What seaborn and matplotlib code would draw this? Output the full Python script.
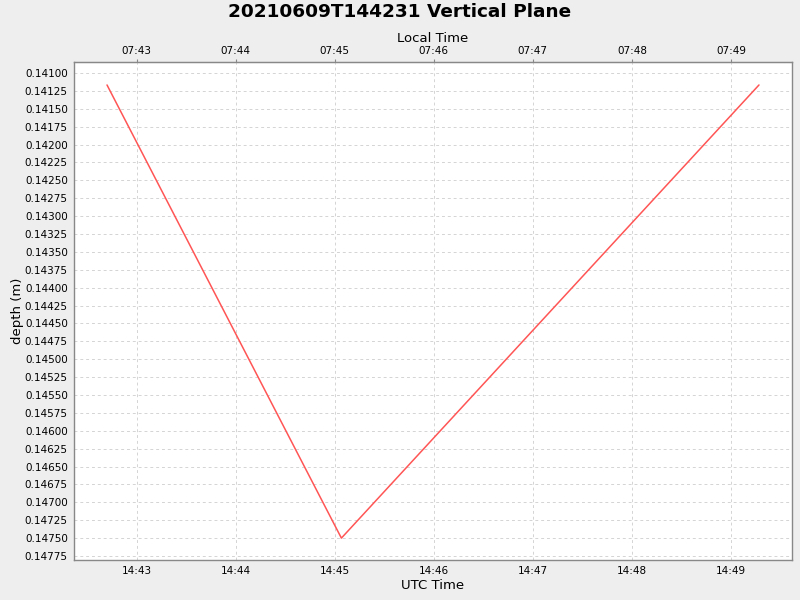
import matplotlib
matplotlib.use("Agg")
import matplotlib.pyplot as plt
import matplotlib.dates as mdates
from matplotlib.ticker import FixedLocator, FormatStrFormatter
import pandas as pd
import numpy as np
import seaborn as sns

# data (UTC times, depth in m)
utc_times = ["2021-06-09 14:42:42", "2021-06-09 14:45:04", "2021-06-09 14:49:17"]
depths = [0.141167, 0.147500, 0.141167]
local_offset_hours = -7

red = "#ff5555"
grid_grey = "#d4d4d4"
frame_grey = "#888888"

sns.set_style("white")
plt.rcParams['font.family'] = ['DejaVu Sans']
plt.rcParams['text.color'] = 'black'
plt.rcParams['axes.labelcolor'] = 'black'
plt.rcParams['xtick.color'] = 'black'
plt.rcParams['ytick.color'] = 'black'

df = pd.DataFrame({"time": pd.to_datetime(utc_times), "depth": depths})

fig = plt.figure(figsize=(8, 6), dpi=100, facecolor="#eeeeee")
ax = fig.add_axes([74 / 800, 1 - 560 / 600, (792 - 74) / 800, (560 - 62) / 600])
ax.set_facecolor("white")

sns.lineplot(data=df, x="time", y="depth", ax=ax, color=red, linewidth=1.1)

ax.set_xlim(pd.Timestamp("2021-06-09 14:42:22"), pd.Timestamp("2021-06-09 14:49:37"))
ax.set_ylim(0.147806, 0.140846)

yticks = np.round(np.arange(0.14100, 0.14776, 0.00025), 5)
ax.yaxis.set_major_locator(FixedLocator(yticks))
ax.yaxis.set_major_formatter(FormatStrFormatter("%.5f"))
ax.xaxis.set_major_locator(mdates.MinuteLocator())
ax.xaxis.set_major_formatter(mdates.DateFormatter("%H:%M"))

ax.grid(True, color=grid_grey, linestyle=(0, (3, 3)), linewidth=0.7)
for s in ax.spines.values():
    s.set_color(frame_grey)
    s.set_linewidth(1)
ax.tick_params(axis="both", labelsize=7.5, length=2.5, color=frame_grey,
               labelcolor="black", direction="out", pad=2)

ax.set_xlabel("UTC Time", fontsize=9.5)
ax.set_ylabel("depth (m)", fontsize=9.5)
ax.xaxis.set_label_coords(0.5, -0.038)
ax.yaxis.set_label_coords(-0.0696, 0.5)

# top axis in local time
def to_local(x):
    return x + local_offset_hours / 24.0

def to_utc(x):
    return x - local_offset_hours / 24.0

top = ax.secondary_xaxis("top", functions=(to_local, to_utc))
top.xaxis.set_major_locator(mdates.MinuteLocator())
top.xaxis.set_major_formatter(mdates.DateFormatter("%H:%M"))
top.tick_params(labelsize=7.5, length=2.5, color=frame_grey, labelcolor="black", pad=2)
top.spines["top"].set_color(frame_grey)
top.set_xlabel("Local Time", fontsize=9.5, labelpad=3)

fig.text(0.5, 1 - 12 / 600, "20210609T144231 Vertical Plane", fontsize=13.3,
         fontweight="bold", ha="center", va="center", color="black")

fig.savefig("out.png", dpi=100, facecolor=fig.get_facecolor())
